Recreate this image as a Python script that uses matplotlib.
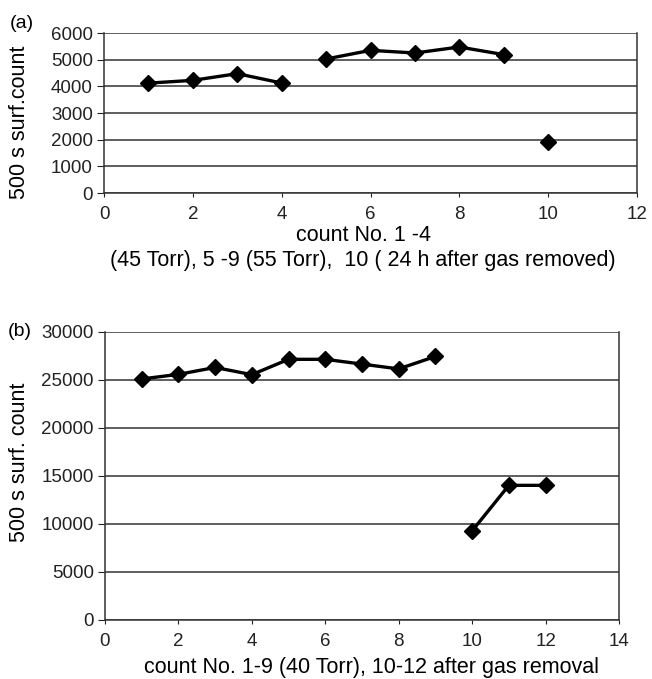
import matplotlib.pyplot as plt

plt.rcParams['font.family'] = ['Liberation Sans', 'DejaVu Sans']

# panel (a)
a_x1 = [1, 2, 3, 4]
a_y1 = [4120, 4225, 4475, 4125]
a_x2 = [5, 6, 7, 8, 9]
a_y2 = [5025, 5350, 5250, 5475, 5190]
a_x3 = [10]
a_y3 = [1910]

# panel (b)
b_x1 = [1, 2, 3, 4, 5, 6, 7, 8, 9]
b_y1 = [25100, 25580, 26300, 25550, 27150, 27150, 26650, 26150, 27450]
b_x2 = [10, 11, 12]
b_y2 = [9250, 14000, 14000]

W, H = 652, 679
fig = plt.figure(figsize=(W / 100, H / 100), dpi=100)

sty = dict(color='black', lw=2.4, marker='D', ms=8.5, mfc='black', mec='black')
fs = 13.5
fyl = 15.5
fxl = 15.5


def style(ax):
    ax.yaxis.grid(True, color='#333333', lw=1.1)
    ax.spines['top'].set_visible(False)
    for s in ['left', 'bottom', 'right']:
        ax.spines[s].set_color('#333333')
        ax.spines[s].set_linewidth(1.1)
    ax.tick_params(labelsize=fs, colors='#222222')
    ax.tick_params(axis='x', direction='out', length=3, pad=6.5)
    ax.tick_params(axis='y', direction='out', length=5, pad=3)


# ---------------- (a)
L, R, T, B = 104, 637, 33, 193
ax1 = fig.add_axes([L / W, 1 - B / H, (R - L) / W, (B - T) / H])
for xs, ys in [(a_x1, a_y1), (a_x2, a_y2), (a_x3, a_y3)]:
    ax1.plot(xs, ys, **sty, zorder=3)
ax1.set_xlim(0, 12)
ax1.set_ylim(0, 6000)
ax1.set_xticks(range(0, 13, 2))
ax1.set_yticks(range(0, 6001, 1000))
style(ax1)
ax1.set_ylabel('500 s surf.count', fontsize=fyl, va='center')
ax1.yaxis.set_label_coords((20 - L) / (R - L), (B - 122) / (B - T))
ax1.set_xlabel('count No. 1 -4\n(45 Torr), 5 -9 (55 Torr),  10 ( 24 h after gas removed)',
               fontsize=fxl, linespacing=1.3, va='center')
ax1.xaxis.set_label_coords((363 - L) / (R - L), (B - 248) / (B - T))
fig.text(10 / W, 1 - 23 / H, '(a)', fontsize=fs + 0.5, va='center')

# ---------------- (b)
L, R, T, B = 105, 619, 332, 619.5
ax2 = fig.add_axes([L / W, 1 - B / H, (R - L) / W, (B - T) / H])
for xs, ys in [(b_x1, b_y1), (b_x2, b_y2)]:
    ax2.plot(xs, ys, **sty, zorder=3)
ax2.set_xlim(0, 14)
ax2.set_ylim(0, 30000)
ax2.set_xticks(range(0, 15, 2))
ax2.set_yticks(range(0, 30001, 5000))
style(ax2)
ax2.set_ylabel('500 s surf. count', fontsize=fyl, va='center')
ax2.yaxis.set_label_coords((20 - L) / (R - L), (B - 462) / (B - T))
ax2.set_xlabel('count No. 1-9 (40 Torr), 10-12 after gas removal', fontsize=fxl, va='center')
ax2.xaxis.set_label_coords((372 - L) / (R - L), (B - 668) / (B - T))
fig.text(8 / W, 1 - 331 / H, '(b)', fontsize=fs + 0.5, va='center')

fig.savefig('out.png', dpi=100)
